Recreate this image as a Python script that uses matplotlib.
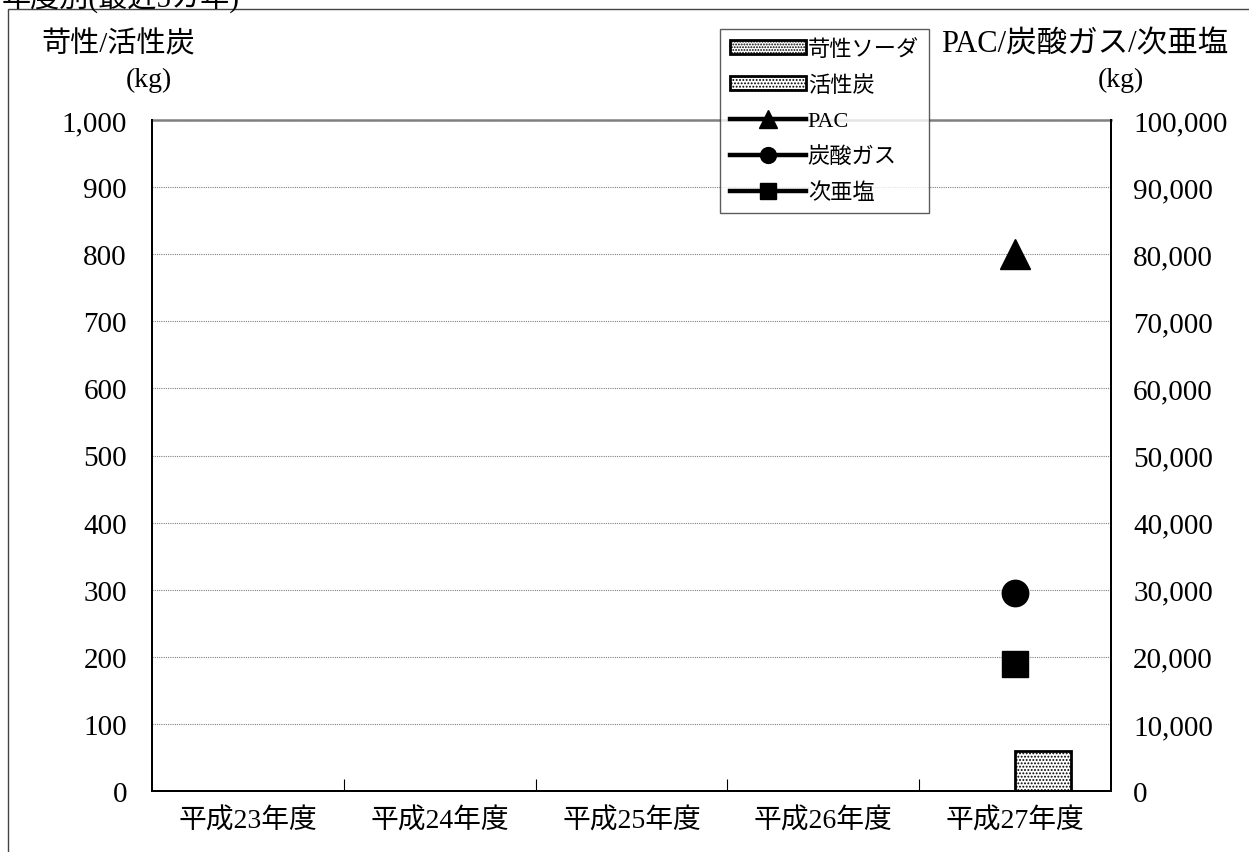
import numpy as np
import matplotlib
matplotlib.use("Agg")
import matplotlib.pyplot as plt
from matplotlib.patches import Rectangle

plt.rcParams['font.family'] = ['Liberation Serif', 'Noto Sans CJK JP', 'DejaVu Sans']
plt.rcParams['hatch.linewidth'] = 0.9

# data
years = ['平成23年度', '平成24年度', '平成25年度', '平成26年度', '平成27年度']
caustic = [np.nan, np.nan, np.nan, np.nan, np.nan]   # 苛性ソーダ (kg)
carbon = [np.nan, np.nan, np.nan, np.nan, 60]        # 活性炭 (kg)
pac = [np.nan, np.nan, np.nan, np.nan, 80000]
co2 = [np.nan, np.nan, np.nan, np.nan, 29500]
hypo = [np.nan, np.nan, np.nan, np.nan, 19000]
left_ticks = [0, 100, 200, 300, 400, 500, 600, 700, 800, 900, 1000]
right_ticks = [0, 10000, 20000, 30000, 40000, 50000, 60000, 70000, 80000, 90000, 100000]

fig = plt.figure(figsize=(12.49, 8.53), dpi=100)
ax = fig.add_axes([152/1249, 1-792/853, (1111-152)/1249, (792-121)/853])
ax2 = ax.twinx()

x = np.arange(len(years))
w = 0.29
ax.bar(x - w/2, caustic, w, facecolor='white', edgecolor='black', hatch='......', linewidth=2, label='苛性ソーダ')
ax.bar(x + w/2, carbon, w, facecolor='white', edgecolor='black', hatch='.....', linewidth=2, label='活性炭')

ax2.plot(x, pac, color='black', lw=3.2, marker='^', ms=21, label='PAC')
ax2.plot(x, co2, color='black', lw=3.2, marker='o', ms=19, label='炭酸ガス')
ax2.plot(x, hypo, color='black', lw=3.2, marker='s', ms=19, label='次亜塩')

ax.set_xlim(-0.5, len(years) - 0.5)
ax.set_ylim(0, 1000)
ax2.set_ylim(0, 100000)
ax.set_yticks(left_ticks)
ax.set_yticklabels([f'{v:,}' for v in left_ticks], fontsize=21)
ax2.set_yticks(right_ticks)
ax2.set_yticklabels([f'{v:,}' for v in right_ticks], fontsize=21)
ax.tick_params(axis='y', length=0, pad=18)
ax2.tick_params(axis='y', length=0, pad=16)

ax.set_xticks(x)
ax.set_xticklabels(years, fontsize=20)
ax.set_xticks(np.arange(0.5, len(years) - 1, 1), minor=True)
ax.tick_params(axis='x', which='major', length=0, pad=12)
ax.tick_params(axis='x', which='minor', direction='in', length=9, width=0.8)

ax.grid(axis='y', color='gray', linestyle=(0, (1, 1)), linewidth=0.8)
ax.set_axisbelow(True)
for a in (ax, ax2):
    a.spines['top'].set_visible(False)
    a.spines['left'].set_linewidth(1.4)
    a.spines['right'].set_linewidth(1.4)
    a.spines['bottom'].set_linewidth(1.4)
ax.axhline(1000, color='gray', lw=1.8, clip_on=False)

fig.text(118/1249, 1-45/853, '苛性/活性炭', fontsize=21, ha='center', va='center')
fig.text(149/1249, 1-80/853, '(kg)', fontsize=20, ha='center', va='center')
fig.text(1085/1249, 1-45/853, 'PAC/炭酸ガス/次亜塩', fontsize=22, ha='center', va='center')
fig.text(1121/1249, 1-80/853, '(kg)', fontsize=20, ha='center', va='center')
fig.text(2/1249, 1-8/853, '年度別(最近5カ年)', fontsize=21, ha='left', va='baseline')

fig.patches.append(Rectangle((8/1249, -0.1), 1.2, 1.1 - 10/853, transform=fig.transFigure,
                             fill=False, edgecolor='#444444', lw=1.0))

h1, l1 = ax.get_legend_handles_labels()
h2, l2 = ax2.get_legend_handles_labels()
leg = fig.legend(h1 + h2, l1 + l2, loc='upper left', bbox_to_anchor=(720/1249, 1-30/853),
                 fontsize=16, frameon=True, fancybox=False, edgecolor='#333333',
                 handlelength=3.4, handleheight=0.6, labelspacing=0.68, handletextpad=0.1,
                 borderpad=0.45, borderaxespad=0, markerscale=0.6)
leg.get_frame().set_linewidth(1.0)

fig.savefig('out.png', dpi=100)
